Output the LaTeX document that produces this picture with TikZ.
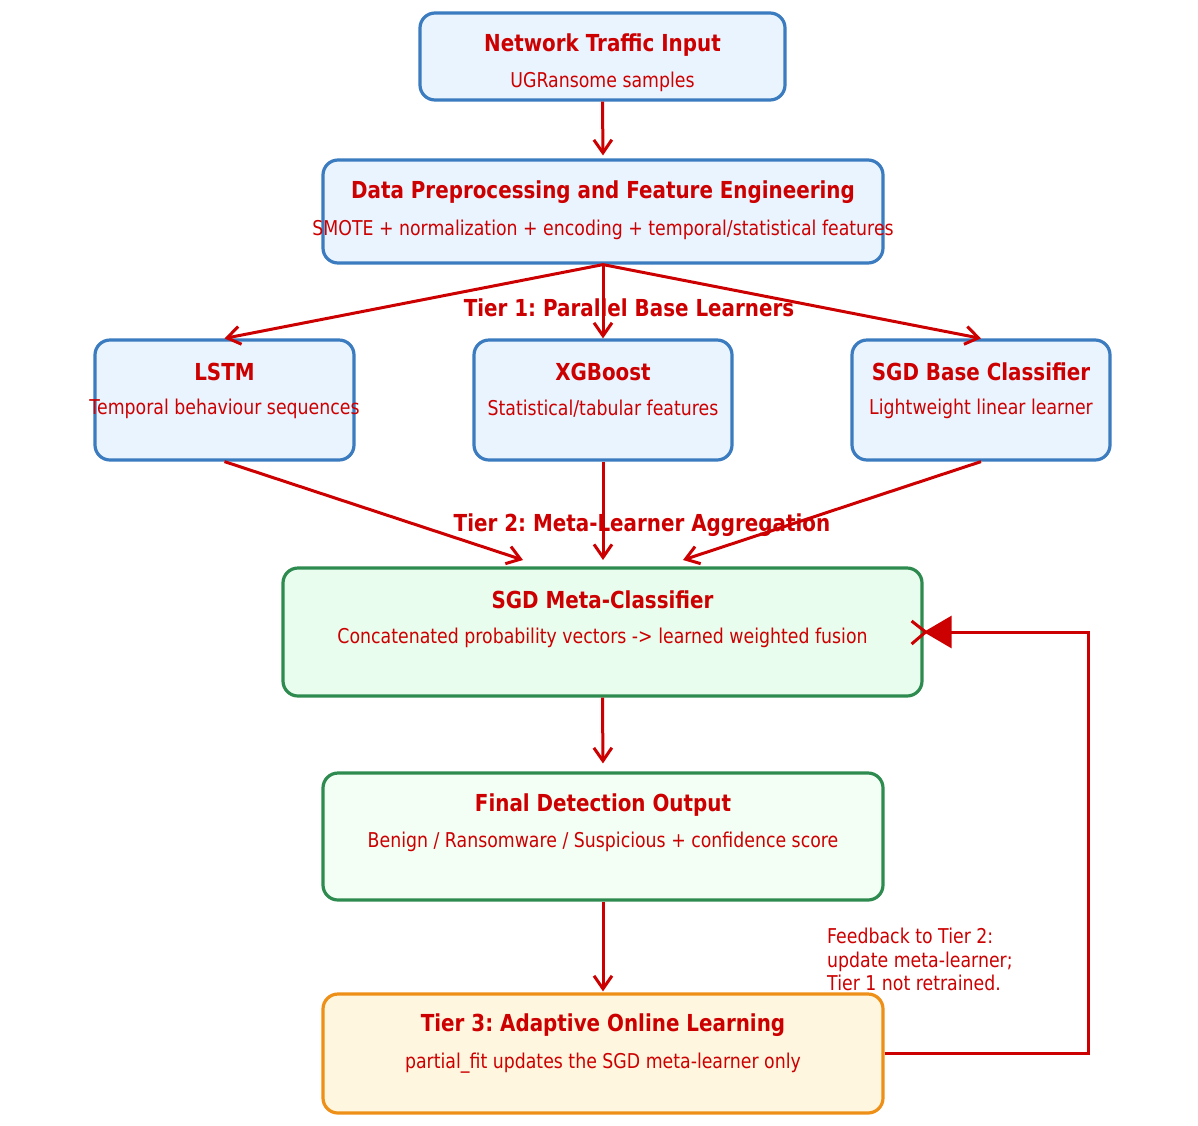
\documentclass[tikz,border=0pt]{standalone}
\usepackage{fontspec}
\setmainfont{DejaVu Sans}[FakeStretch=0.85]
\usetikzlibrary{arrows.meta}
\definecolor{tred}{HTML}{CC0000}
\definecolor{bborder}{HTML}{3B7BBF}
\definecolor{bfill}{HTML}{EAF4FE}
\definecolor{gborder}{HTML}{2E8B4F}
\definecolor{gfill}{HTML}{E8FDEE}
\definecolor{gfilltwo}{HTML}{F3FEF5}
\definecolor{oborder}{HTML}{EE9018}
\definecolor{ofill}{HTML}{FFF6DF}
\frenchspacing
\tikzset{
  boxbase/.style={rectangle, rounded corners=15pt, line width=3.2pt, inner sep=0pt},
  bluebox/.style={boxbase, draw=bborder, fill=bfill},
  greenbox/.style={boxbase, draw=gborder, fill=gfill},
  greenboxtwo/.style={boxbase, draw=gborder, fill=gfilltwo},
  orangebox/.style={boxbase, draw=oborder, fill=ofill},
  ttl/.style={text=tred, font=\fontsize{23.4}{27}\selectfont\bfseries, inner sep=0pt},
  sub/.style={text=tred, font=\fontsize{20.4}{24}\selectfont, inner sep=0pt},
  flow/.style={draw=tred, line width=3pt, -{Straight Barb[length=13pt,width=18pt,line width=3pt]}},
}
\begin{document}
\begin{tikzpicture}[x=1pt,y=-1pt]
\useasboundingbox (0,0) rectangle (1198,1125);
% boxes
\node[bluebox, minimum width=365pt, minimum height=87pt] (inp) at (602.5,56.5) {};
\node[bluebox, minimum width=560pt, minimum height=103pt] (pre) at (603,211.5) {};
\node[bluebox, minimum width=259pt, minimum height=120pt] (lstm) at (224.5,400) {};
\node[bluebox, minimum width=258pt, minimum height=120pt] (xgb) at (603,400) {};
\node[bluebox, minimum width=258pt, minimum height=120pt] (sgd) at (981,400) {};
\node[greenbox, minimum width=639pt, minimum height=128pt] (meta) at (602.5,632) {};
\node[greenboxtwo, minimum width=560pt, minimum height=127pt] (fin) at (603,836.5) {};
\node[orangebox, minimum width=560pt, minimum height=119pt] (ada) at (603,1053.5) {};
% texts
\node[ttl] (inp-t) at (602.5,45) {Network Traffic Input};
\node[sub] (inp-s) at (602.5,82) {UGRansome samples};
\node[ttl] (pre-t) at (603,192) {Data Preprocessing and Feature Engineering};
\node[sub] (pre-s) at (603,230) {SMOTE + normalization + encoding + temporal/statistical features};
\node[ttl] (lstm-t) at (224.5,372) {LSTM};
\node[sub] (lstm-s) at (224.5,409) {Temporal behaviour sequences};
\node[ttl] (xgb-t) at (603,372) {XGBoost};
\node[sub] (xgb-s) at (603,409) {Statistical/tabular features};
\node[ttl] (sgd-t) at (981,372) {SGD Base Classifier};
\node[sub] (sgd-s) at (981,409) {Lightweight linear learner};
\node[ttl] (meta-t) at (602.5,600) {SGD Meta-Classifier};
\node[sub] (meta-s) at (602.5,638) {Concatenated probability vectors -> learned weighted fusion};
\node[ttl] (fin-t) at (603,805) {Final Detection Output};
\node[sub] (fin-s) at (603,842) {Benign / Ransomware / Suspicious + confidence score};
\node[ttl] (ada-t) at (603,1025) {Tier 3: Adaptive Online Learning};
\node[sub] (ada-s) at (603,1063) {partial\_fit updates the SGD meta-learner only};
% connectors
\draw[flow, shorten >=3pt] (inp.south) -- (pre.north);
\draw[flow] (pre.south) -- (lstm.north);
\draw[flow] (pre.south) -- (xgb.north);
\draw[flow] (pre.south) -- (sgd.north);
\coordinate (mL) at (523,560);
\coordinate (mC) at (603,560);
\coordinate (mR) at (683,560);
\draw[flow] (lstm.south) -- (mL);
\draw[flow] (xgb.south) -- (mC);
\draw[flow] (sgd.south) -- (mR);
\draw[flow, shorten >=8pt] (meta.south) -- (fin.north);
\draw[flow, shorten >=1pt] (fin.south) -- (ada.north);
% feedback
\coordinate (fb1) at (1088,1053);
\coordinate (fb2) at (1088,632);
\draw[draw=tred, line width=3pt, -{Triangle[length=28pt,width=32pt]}] (ada.east |- fb1) -- (fb1) -- (fb2) -- (meta.east);
\draw[draw=tred, line width=3pt] ([xshift=-12pt,yshift=11pt]meta.east) -- ([xshift=2pt]meta.east) -- ([xshift=-12pt,yshift=-12pt]meta.east);
% tier labels
\node[ttl] (tier1) at (629,308) {Tier 1: Parallel Base Learners};
\node[ttl] (tier2) at (642,525) {Tier 2: Meta-Learner Aggregation};
\node[sub, anchor=north west, align=left, font=\fontsize{20.4}{23.5}\selectfont] (fbtext) at (827,928) {Feedback to Tier 2:\\update meta-learner;\\Tier 1 not retrained.};
\end{tikzpicture}
\end{document}
